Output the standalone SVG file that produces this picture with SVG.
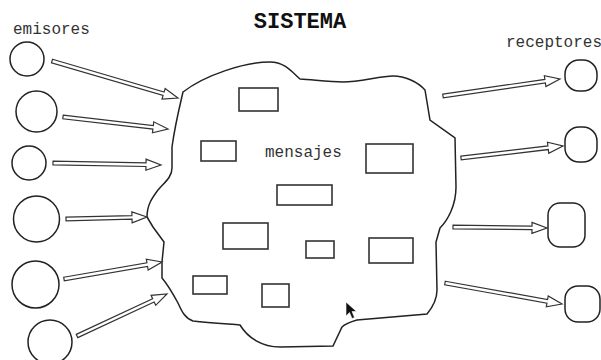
<svg xmlns="http://www.w3.org/2000/svg" width="601" height="360" viewBox="0 0 601 360">
<style>
.lbl{font-family:"Liberation Mono","DejaVu Sans Mono",monospace;font-size:16px;fill:#333}
.title{font-family:"Liberation Mono","DejaVu Sans Mono",monospace;font-size:22px;font-weight:bold;fill:#111}
.shape{fill:#fff;stroke:#222;stroke-width:1.5}
.box{fill:#fff;stroke:#333;stroke-width:1.6}
.arrow{fill:#fff;stroke:#333;stroke-width:1.2;stroke-linejoin:miter}
</style>
<rect width="601" height="360" fill="#fff"/>
<text class="title" x="300" y="28" text-anchor="middle">SISTEMA</text>
<text class="lbl" x="13" y="34">emisores</text>
<text class="lbl" x="506" y="47">receptores</text>

<g id="sistema">
<path class="shape" d="M183,92 C205,75 245,62 270,62 C285,62 292,72 300,79 C315,80 330,82 343,82 C360,82 380,76 393,76 C405,76 418,82 425,90 L430,120 L455,138 L456,187 C456,205 448,220 440,228 L436,242 L437,290 C437,300 432,308 427,314 L357,320 C350,322 345,324 342,327 L333,346 L280,347 C262,347 248,338 240,325 C228,324 210,323 193,321 C185,318 182,312 178,303 C172,292 168,285 162,278 L162,262 L164,242 L153,227 L147,217 C147,205 152,198 158,190 C165,182 172,177 172,168 L172,147 C175,125 180,105 183,92 Z"/>
<text class="lbl" x="265" y="157">mensajes</text>
</g>

<g id="mensajes">
<rect class="box" x="239" y="88" width="39" height="23"/>
<rect class="box" x="201" y="141" width="35" height="20"/>
<rect class="box" x="366" y="144" width="47" height="29"/>
<rect class="box" x="277" y="185" width="55" height="20"/>
<rect class="box" x="223" y="223" width="45" height="26"/>
<rect class="box" x="306" y="241" width="28" height="17"/>
<rect class="box" x="369" y="238" width="44" height="25"/>
<rect class="box" x="193" y="276" width="34" height="18"/>
<rect class="box" x="262" y="284" width="27" height="23"/>
</g>

<g id="emisores">
<circle id="e1" class="shape" cx="27" cy="59" r="17"/>
<circle id="e2" class="shape" cx="36.5" cy="111.5" r="20.5"/>
<circle id="e3" class="shape" cx="29" cy="163" r="17"/>
<circle id="e4" class="shape" cx="36.5" cy="219" r="23"/>
<circle id="e5" class="shape" cx="35.5" cy="284.5" r="23.5"/>
<circle id="e6" class="shape" cx="50" cy="342" r="22"/>
</g>

<g id="receptores">
<rect id="r1" class="shape" x="565" y="60" width="32" height="31" rx="14" ry="14"/>
<rect id="r2" class="shape" x="565" y="127" width="32" height="35" rx="14" ry="14"/>
<rect id="r3" class="shape" x="548" y="203" width="37" height="44" rx="12" ry="12"/>
<rect id="r4" class="shape" x="565" y="286" width="35" height="36" rx="13" ry="13"/>
</g>

<g id="connectors">
<path class="arrow" transform="translate(52,61) rotate(16.37)" d="M0,-1.8 H116.3 V-5.5 L131.3,0 L116.3,5.5 V1.8 H0 Z"/>
<path class="arrow" transform="translate(63,117) rotate(6.52)" d="M0,-1.8 H90.7 V-5.5 L105.7,0 L90.7,5.5 V1.8 H0 Z"/>
<path class="arrow" transform="translate(53,163) rotate(1.06)" d="M0,-1.8 H93 V-5.5 L108,0 L93,5.5 V1.8 H0 Z"/>
<path class="arrow" transform="translate(66,219) rotate(-1.41)" d="M0,-1.8 H66 V-5.5 L81,0 L66,5.5 V1.8 H0 Z"/>
<path class="arrow" transform="translate(64,279) rotate(-9.84)" d="M0,-1.8 H84.5 V-5.5 L99.5,0 L84.5,5.5 V1.8 H0 Z"/>
<path class="arrow" transform="translate(77,336) rotate(-25.02)" d="M0,-1.8 H84.3 V-5.5 L99.3,0 L84.3,5.5 V1.8 H0 Z"/>
<path class="arrow" transform="translate(443,96) rotate(-8.27)" d="M0,-1.8 H103.2 V-5.5 L118.2,0 L103.2,5.5 V1.8 H0 Z"/>
<path class="arrow" transform="translate(461,158) rotate(-6.71)" d="M0,-1.8 H87.7 V-5.5 L102.7,0 L87.7,5.5 V1.8 H0 Z"/>
<path class="arrow" transform="translate(453,227) rotate(0.61)" d="M0,-1.8 H79 V-5.5 L94,0 L79,5.5 V1.8 H0 Z"/>
<path class="arrow" transform="translate(445,283) rotate(10.18)" d="M0,-1.8 H103.9 V-5.5 L118.9,0 L103.9,5.5 V1.8 H0 Z"/>
</g>

<path d="M346,302 L346,316 L349.5,312.5 L352,318.5 L354.5,317.5 L352,311.5 L356.5,311.5 Z" fill="#111" stroke="#fff" stroke-width="0.6"/>
</svg>
